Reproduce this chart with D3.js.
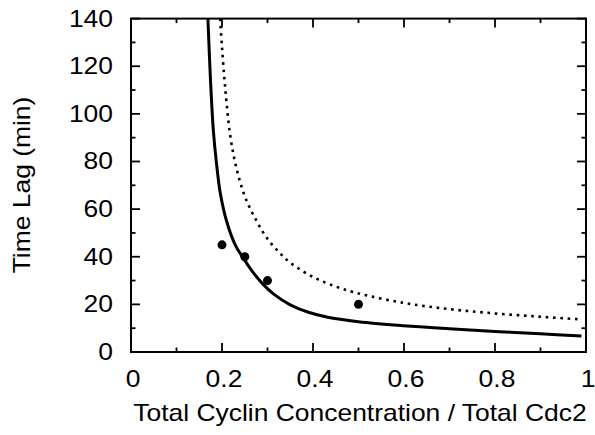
<!DOCTYPE html>
<html lang="en">

<head>
    <meta charset="UTF-8">
    <title>Time Lag vs Cyclin</title>
</head>
<style>
    body {
        margin: 0;
        background: white;
    }

    text {
        font-family: "Liberation Sans", Arial, Helvetica, sans-serif;
        fill: black;
    }
</style>

<body>
    <div id="content"></div>
    <script src="https://d3js.org/d3.v7.min.js"></script>
    <script>

        // model curves (x = cyclin/cdc2 ratio, y = time lag in min)
        var solidX = [0.169, 0.175, 0.181, 0.188, 0.196, 0.21, 0.229, 0.25, 0.27, 0.29, 0.313, 0.35, 0.39, 0.43, 0.5, 0.6, 0.7, 0.8, 0.9, 0.99];
        var solidY = [140, 113, 93, 79, 67, 55, 45, 38.5, 33, 28.5, 24.4, 19.8, 16.7, 14.7, 12.7, 11, 9.75, 8.65, 7.65, 6.75];

        var dottedX = [0.196, 0.2, 0.207, 0.218, 0.232, 0.251, 0.276, 0.3, 0.325, 0.35, 0.4, 0.45, 0.5, 0.6, 0.7, 0.8, 0.9, 0.99];
        var dottedY = [140, 128, 111, 91, 77, 65, 55, 47.5, 42, 37.5, 31.5, 27.5, 24.6, 20.6, 18, 16.2, 14.8, 13.7];

        // measured points
        var pointX = [0.2, 0.25, 0.3, 0.5];
        var pointY = [45, 40, 30, 20];

        var xTicks = [0, 0.2, 0.4, 0.6, 0.8, 1];
        var xLabels = ["0", "0.2", "0.4", "0.6", "0.8", "1"];
        var yTicks = [0, 20, 40, 60, 80, 100, 120, 140];

        var width = 595,
            height = 435;
        var stretch = 1.15; // text in the picture is a bit wider than normal
        var fontSize = "23px";

        var svg = d3.select("#content")
            .append("svg")
            .attr("width", width)
            .attr("height", height);

        var x = d3.scaleLinear().domain([0, 1]).range([131, 586]);
        var y = d3.scaleLinear().domain([0, 140]).range([352, 18.6]);

        svg.append("clipPath")
            .attr("id", "plotclip")
            .append("rect")
            .attr("x", x(0))
            .attr("y", y(140))
            .attr("width", x(1) - x(0))
            .attr("height", y(0) - y(140));

        // ticks on all four sides, pointing in
        var minorX = d3.range(0, 11).map(function (i) { return i / 10; });
        var minorY = d3.range(0, 15).map(function (i) { return i * 10; });

        var tickG = svg.append("g")
            .attr("stroke", "black")
            .attr("stroke-width", 1.8);

        minorX.forEach(function (v, i) {
            var len = (i % 2 == 0) ? 9 : 4.5;
            tickG.append("line")
                .attr("x1", x(v)).attr("x2", x(v))
                .attr("y1", y(0)).attr("y2", y(0) - len);
            tickG.append("line")
                .attr("x1", x(v)).attr("x2", x(v))
                .attr("y1", y(140)).attr("y2", y(140) + len);
        });

        minorY.forEach(function (v, i) {
            var len = (i % 2 == 0) ? 9 : 4.5;
            tickG.append("line")
                .attr("x1", x(0)).attr("x2", x(0) + len)
                .attr("y1", y(v)).attr("y2", y(v));
            tickG.append("line")
                .attr("x1", x(1)).attr("x2", x(1) - len)
                .attr("y1", y(v)).attr("y2", y(v));
        });

        svg.append("rect")
            .attr("x", x(0))
            .attr("y", y(140))
            .attr("width", x(1) - x(0))
            .attr("height", y(0) - y(140))
            .attr("fill", "none")
            .attr("stroke", "black")
            .attr("stroke-width", 2);

        // tick labels
        svg.selectAll(".xlab")
            .data(xTicks)
            .enter()
            .append("text")
            .attr("class", "xlab")
            .attr("text-anchor", "middle")
            .attr("transform", function (d) {
                return "translate(" + (x(d) + 2) + ",387) scale(" + stretch + ",1)";
            })
            .style("font-size", fontSize)
            .text(function (d, i) { return xLabels[i]; });

        svg.selectAll(".ylab")
            .data(yTicks)
            .enter()
            .append("text")
            .attr("class", "ylab")
            .attr("text-anchor", "end")
            .attr("transform", function (d) {
                return "translate(113," + (y(d) + 8) + ") scale(" + stretch + ",1)";
            })
            .style("font-size", fontSize)
            .text(function (d) { return d; });

        // axis titles
        svg.append("text")
            .attr("text-anchor", "middle")
            .attr("transform", "translate(360,421) scale(" + stretch + ",1)")
            .style("font-size", fontSize)
            .text("Total Cyclin Concentration / Total Cdc2");

        svg.append("text")
            .attr("text-anchor", "middle")
            .attr("transform", "translate(30,185) rotate(-90) scale(" + stretch + ",1)")
            .style("font-size", fontSize)
            .text("Time Lag (min)");

        var line = d3.line()
            .x(function (d) { return x(d[0]); })
            .y(function (d) { return y(d[1]); })
            .curve(d3.curveCatmullRom.alpha(0.5));

        var solidData = solidX.map(function (v, i) { return [v, solidY[i]]; });
        var dottedData = dottedX.map(function (v, i) { return [v, dottedY[i]]; });

        var plot = svg.append("g").attr("clip-path", "url(#plotclip)");

        plot.append("path")
            .datum(dottedData)
            .attr("d", line)
            .attr("fill", "none")
            .attr("stroke", "black")
            .attr("stroke-width", 2.6)
            .attr("stroke-dasharray", "2.6,4.7");

        plot.append("path")
            .datum(solidData)
            .attr("d", line)
            .attr("fill", "none")
            .attr("stroke", "black")
            .attr("stroke-width", 3);

        svg.selectAll(".pt")
            .data(pointX)
            .enter()
            .append("circle")
            .attr("class", "pt")
            .attr("cx", function (d) { return x(d); })
            .attr("cy", function (d, i) { return y(pointY[i]); })
            .attr("r", 4.5)
            .attr("fill", "black");

    </script>
</body>

</html>
